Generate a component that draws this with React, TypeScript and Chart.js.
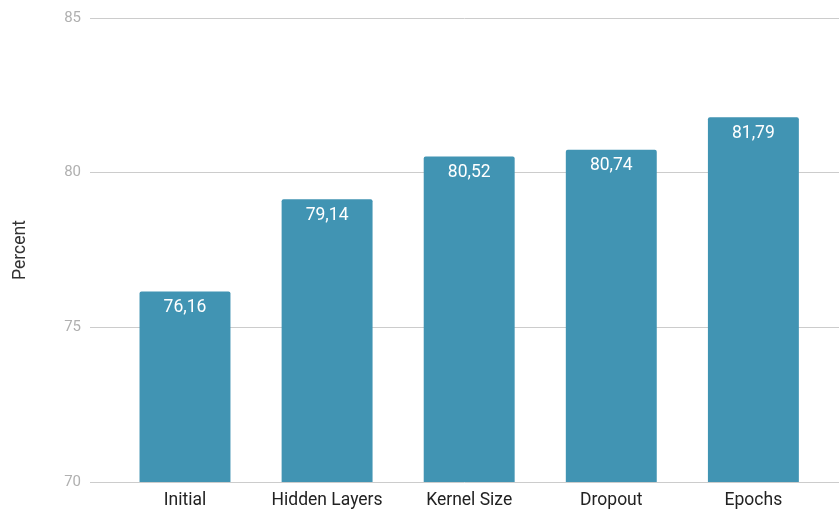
import React, { useEffect, useRef } from "react";
import { Chart, registerables } from "chart.js";

Chart.register(...registerables);

const categories = ["Initial", "Hidden Layers", "Kernel Size", "Dropout", "Epochs"];
const percentValues = [76.16, 79.14, 80.52, 80.74, 81.79];
const yTicks = [70, 75, 80, 85];

const BAR_COLOR = "#4194b3";

const valueLabelPlugin = {
  id: "valueLabels",
  afterDatasetsDraw(chart: any) {
    const { ctx } = chart;
    const meta = chart.getDatasetMeta(0);
    ctx.save();
    ctx.fillStyle = "#ffffff";
    ctx.font = "17.5px Roboto";
    ctx.textAlign = "center";
    ctx.textBaseline = "middle";
    meta.data.forEach((bar: any, i: number) => {
      const txt = percentValues[i].toFixed(2).replace(".", ",");
      ctx.fillText(txt, bar.x, bar.y + 16);
    });
    ctx.restore();
  },
};

export default function App() {
  const ref = useRef<HTMLCanvasElement | null>(null);
  useEffect(() => {
    if (!ref.current) return;
    const chart = new Chart(ref.current, {
      type: "bar",
      data: {
        datasets: [
          {
            data: percentValues.map((v, i) => ({ x: i, y: v })),
            backgroundColor: BAR_COLOR,
            borderRadius: 2,
            borderSkipped: "start",
            barPercentage: 0.64,
            categoryPercentage: 1,
          },
        ],
      },
      options: {
        animation: false,
        responsive: false,
        maintainAspectRatio: false,
        layout: { padding: { top: 17, right: 0, left: 0, bottom: 0 } },
        plugins: { legend: { display: false }, tooltip: { enabled: false } },
        scales: {
          x: {
            type: "linear",
            offset: false,
            min: -0.6685,
            max: 4.6025,
            grid: { display: false },
            border: { display: false },
            afterFit(scale: any) {
              scale.height = 33;
            },
            ticks: {
              stepSize: 1,
              includeBounds: false,
              autoSkip: false,
              maxRotation: 0,
              padding: 0,
              color: "#222222",
              font: { family: "Roboto", size: 17.5 },
              callback: (v: any) => {
                const n = Number(v);
                return Number.isInteger(n) && categories[n] ? categories[n] : "";
              },
            },
          },
          y: {
            min: 70,
            max: 85,
            afterBuildTicks(scale: any) {
              scale.ticks = yTicks.map((v) => ({ value: v }));
            },
            afterFit(scale: any) {
              scale.width = 90;
            },
            grid: { color: "#cccccc", drawTicks: false, lineWidth: 1 },
            border: { display: false },
            ticks: {
              padding: 9,
              color: "#b0b0b0",
              font: { family: "Roboto", size: 15 },
            },
            title: {
              display: true,
              text: "Percent",
              color: "#333333",
              font: { family: "Roboto", size: 17.5 },
              padding: { top: 10, bottom: 0 },
            },
          },
        },
      },
      plugins: [valueLabelPlugin],
    } as any);
    return () => chart.destroy();
  }, []);
  return (
    <div style={{ position: "fixed", left: 0, top: 0, width: 839, height: 515, background: "#fff" }}>
      <canvas ref={ref} width={839} height={515} style={{ width: 839, height: 515 }} />
    </div>
  );
}
